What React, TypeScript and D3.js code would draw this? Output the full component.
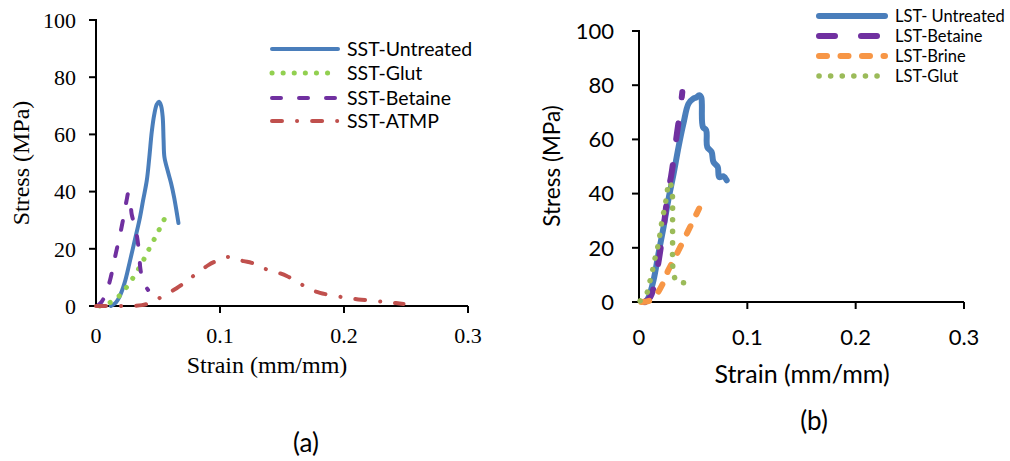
import React from "react";
import * as d3 from "d3";

type P = [number, number];

// ---------- Data (strain mm/mm, stress MPa) ----------
const SST_UNTREATED: P[] = [
  [0.012, 0], [0.016, 1.2], [0.019, 3.3], [0.023, 8], [0.027, 15], [0.031, 22.5],
  [0.035, 30], [0.038, 37], [0.041, 44], [0.043, 52], [0.045, 61], [0.047, 67],
  [0.049, 70.5], [0.0508, 71.4], [0.0525, 70], [0.0538, 66], [0.0545, 58],
  [0.0552, 52], [0.058, 47], [0.0605, 43], [0.063, 38], [0.065, 33], [0.0665, 29],
];
const SST_GLUT: P[] = [
  [0.003, 0], [0.009, 0.8], [0.016, 2.4], [0.0215, 4.9], [0.027, 7.9], [0.0315, 11],
  [0.036, 14.2], [0.04, 17.5], [0.044, 21], [0.0484, 24.5], [0.0524, 28], [0.0565, 31.6],
];
const SST_BETAINE: P[] = [
  [0.001, 0], [0.0046, 1.5], [0.008, 4.5], [0.0113, 9], [0.016, 18.4], [0.0207, 27.7],
  [0.0247, 37], [0.026, 39.4], [0.0275, 37.5], [0.0288, 32], [0.031, 28.5], [0.0333, 23.7],
  [0.035, 17.2], [0.0358, 13], [0.038, 8.5], [0.042, 5.6],
];
const SST_ATMP: P[] = [
  [0, 0], [0.023, 0], [0.037, 0.3], [0.045, 1.3], [0.054, 3.5], [0.065, 6.2], [0.072, 8.3],
  [0.08, 11], [0.0906, 14.3], [0.097, 15.7], [0.1075, 17.2], [0.119, 15.7], [0.1255, 15.1],
  [0.135, 13.2], [0.1457, 11.8], [0.1538, 10.5], [0.163, 8.2], [0.174, 5.6], [0.1806, 4.6],
  [0.193, 3.5], [0.205, 2.7], [0.214, 2.2], [0.226, 1.7], [0.238, 1.2], [0.248, 0.7],
];

const LST_UNTREATED: P[] = [
  [0.006, 0], [0.0089, 1.8], [0.0134, 8], [0.018, 17.9], [0.0227, 27.7], [0.027, 37.5],
  [0.032, 47.4], [0.0365, 57.2], [0.041, 65.8], [0.0457, 73.2], [0.05, 75], [0.053, 75.5],
  [0.0555, 76.3], [0.0575, 75.5], [0.058, 73.2], [0.059, 64.6], [0.062, 63.4], [0.063, 57.2],
  [0.067, 55.4], [0.0687, 51.7], [0.0727, 49.8], [0.074, 46.1], [0.078, 46.4], [0.081, 44.9],
];
const LST_BETAINE: P[] = [
  [0.005, 0], [0.0104, 1.8], [0.0166, 11.7], [0.0227, 27.7], [0.027, 41.2], [0.0295, 46.1],
  [0.0334, 57.2], [0.035, 62.1], [0.038, 70.7], [0.04, 77.5],
];
const LST_BRINE: P[] = [
  [0.002, 0], [0.0104, 0.6], [0.0166, 3.1], [0.022, 6.8], [0.027, 11.7], [0.0334, 16.6],
  [0.0396, 21.5], [0.0457, 26.5], [0.051, 30.8], [0.0555, 34.5],
];
const LST_GLUT: P[] = [
  [0.001, 0.4], [0.0067, 2.7], [0.0095, 6.8], [0.012, 10.7], [0.014, 14.8], [0.0166, 19],
  [0.0187, 23.4], [0.0203, 27.7], [0.022, 31.6], [0.0242, 35.7], [0.0258, 40.2], [0.028, 44.3],
  [0.03, 42.4], [0.031, 38.1], [0.031, 33.6], [0.031, 29.2], [0.031, 24.6], [0.031, 20.3],
  [0.031, 15.4], [0.0319, 10.7], [0.035, 7.4], [0.042, 7], [0.0488, 5.8],
];

const X_TICKS = [0, 0.1, 0.2, 0.3];
const Y_TICKS = [0, 20, 40, 60, 80, 100];
const X_TICK_LABELS = ["0", "0.1", "0.2", "0.3"];
const Y_TICK_LABELS = ["0", "20", "40", "60", "80", "100"];

const SST_NAMES = ["SST-Untreated", "SST-Glut", "SST-Betaine", "SST-ATMP"];
const LST_NAMES = ["LST- Untreated", "LST-Betaine", "LST-Brine", "LST-Glut"];

type Style = { color: string; width: number; dash?: string };

const SST_STYLES: Style[] = [
  { color: "#4A7EBB", width: 4 },
  { color: "#92D050", width: 5, dash: "0.1 11" },
  { color: "#7030A0", width: 4, dash: "9 18" },
  { color: "#C0504D", width: 4, dash: "10 15 0.1 15" },
];
const LST_STYLES: Style[] = [
  { color: "#4A7EBB", width: 6 },
  { color: "#7030A0", width: 6, dash: "16 26" },
  { color: "#F79646", width: 6, dash: "8 13.5" },
  { color: "#9BBB59", width: 5.5, dash: "0.1 11.5" },
];

type PanelProps = {
  series: P[][];
  names: string[];
  styles: Style[];
  x0: number; x1: number; y0: number; y1: number;
  font: string;
  tickSize: number;
  xTitleSize: number;
  yTitleSize: number;
  yLabelRight: number;
  xLabelBase: number;
  xTitle: { x: number; y: number };
  yTitle: { x: number; y: number };
  legend: { x1: number; x2: number; tx: number; ys: number[]; size: number };
  panel: { text: string; x: number; y: number };
};

function Panel(p: PanelProps) {
  const x = d3.scaleLinear().domain([0, 0.3]).range([p.x0, p.x1]);
  const y = d3.scaleLinear().domain([0, 100]).range([p.y0, p.y1]);
  const line = d3
    .line<P>()
    .x((d) => x(d[0]))
    .y((d) => y(d[1]))
    .curve(d3.curveCatmullRom.alpha(0.5));
  return (
    <g>
      {/* axes */}
      <line x1={p.x0} x2={p.x0} y1={y(100) - 1} y2={y(0)} stroke="#000" strokeWidth={2} />
      <line x1={p.x0 - 1} x2={p.x1} y1={y(0)} y2={y(0)} stroke="#000" strokeWidth={2} />
      {Y_TICKS.map((t, i) => (
        <g key={"y" + t}>
          <line x1={p.x0 - 7} x2={p.x0} y1={y(t)} y2={y(t)} stroke="#000" strokeWidth={2} />
          <text
            x={p.yLabelRight}
            y={y(t)}
            dy="0.35em"
            textAnchor="end"
            fontFamily={p.font}
            fontSize={p.tickSize}
            fill="#000"
          >
            {Y_TICK_LABELS[i]}
          </text>
        </g>
      ))}
      {X_TICKS.map((t, i) => (
        <g key={"x" + t}>
          {t > 0 && (
            <line x1={x(t)} x2={x(t)} y1={y(0)} y2={y(0) + 7} stroke="#000" strokeWidth={2} />
          )}
          <text
            x={x(t)}
            y={p.xLabelBase}
            textAnchor="middle"
            fontFamily={p.font}
            fontSize={p.tickSize}
            fill="#000"
          >
            {X_TICK_LABELS[i]}
          </text>
        </g>
      ))}
      <text
        x={p.xTitle.x}
        y={p.xTitle.y}
        textAnchor="middle"
        fontFamily={p.font}
        fontSize={p.xTitleSize}
        fill="#000"
      >
        Strain (mm/mm)
      </text>
      <text
        transform={`translate(${p.yTitle.x},${p.yTitle.y}) rotate(-90)`}
        textAnchor="middle"
        dy="0.35em"
        fontFamily={p.font}
        fontSize={p.yTitleSize}
        fill="#000"
      >
        Stress (MPa)
      </text>
      {/* series */}
      {p.series.map((s, i) => (
        <path
          key={"s" + i}
          d={line(s) || ""}
          fill="none"
          stroke={p.styles[i].color}
          strokeWidth={p.styles[i].width}
          strokeDasharray={p.styles[i].dash}
          strokeLinecap="round"
          strokeLinejoin="round"
        />
      ))}
      {/* legend */}
      {p.names.map((n, i) => (
        <g key={"l" + i}>
          <line
            x1={p.legend.x1}
            x2={p.legend.x2}
            y1={p.legend.ys[i]}
            y2={p.legend.ys[i]}
            stroke={p.styles[i].color}
            strokeWidth={p.styles[i].width}
            strokeDasharray={p.styles[i].dash}
            strokeLinecap="round"
          />
          <text
            x={p.legend.tx}
            y={p.legend.ys[i]}
            dy="0.35em"
            fontFamily="Lato"
            fontSize={p.legend.size}
            fill="#000"
          >
            {n}
          </text>
        </g>
      ))}
      <text
        x={p.panel.x}
        y={p.panel.y}
        textAnchor="middle"
        fontFamily="Lato"
        fontSize={26}
        fill="#000"
      >
        {p.panel.text}
      </text>
    </g>
  );
}

export default function App() {
  return (
    <svg
      width={1010}
      height={461}
      style={{ position: "absolute", left: 0, top: 0, background: "#fff" }}
    >
      <rect width={1010} height={461} fill="#fff" />
      <Panel
        series={[SST_UNTREATED, SST_GLUT, SST_BETAINE, SST_ATMP]}
        names={SST_NAMES}
        styles={SST_STYLES}
        x0={96}
        x1={468}
        y0={306}
        y1={20}
        font="Liberation Serif"
        tickSize={22}
        xTitleSize={24}
        yTitleSize={24}
        yLabelRight={76}
        xLabelBase={343}
        xTitle={{ x: 267, y: 373 }}
        yTitle={{ x: 21, y: 163 }}
        legend={{ x1: 272, x2: 338, tx: 347, ys: [49, 73, 98, 121], size: 19.5 }}
        panel={{ text: "(a)", x: 306, y: 452 }}
      />
      <Panel
        series={[LST_UNTREATED, LST_BETAINE, LST_BRINE, LST_GLUT]}
        names={LST_NAMES}
        styles={LST_STYLES}
        x0={639}
        x1={964}
        y0={302}
        y1={31}
        font="Lato"
        tickSize={22}
        xTitleSize={25}
        yTitleSize={22.5}
        yLabelRight={614}
        xLabelBase={345}
        xTitle={{ x: 802, y: 383 }}
        yTitle={{ x: 552, y: 166 }}
        legend={{ x1: 819, x2: 885, tx: 895, ys: [16, 36, 56, 76], size: 16.5 }}
        panel={{ text: "(b)", x: 814, y: 430 }}
      />
    </svg>
  );
}
